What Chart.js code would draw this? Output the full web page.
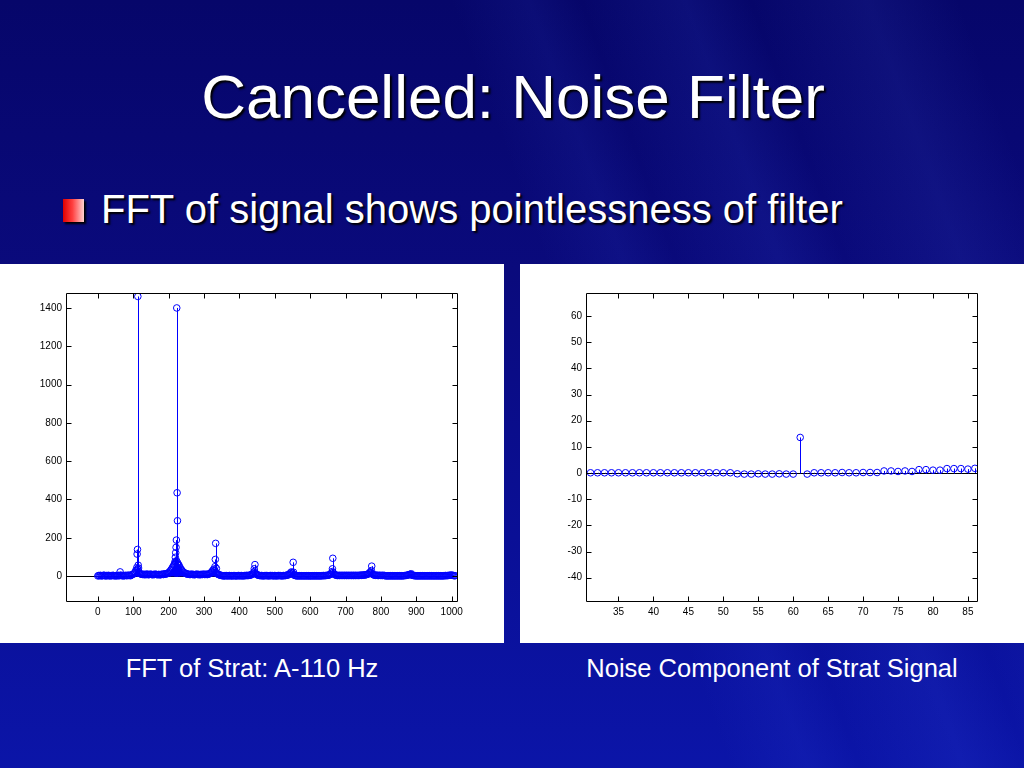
<!DOCTYPE html>
<html>
<head>
<meta charset="utf-8">
<script src="https://cdn.jsdelivr.net/npm/chart.js@4.4.1/dist/chart.umd.min.js"></script>
<style>
  html, body { margin: 0; padding: 0; }
  body {
    width: 1024px; height: 768px; overflow: hidden; position: relative;
    font-family: "Liberation Sans", Arial, sans-serif;
    background:
      linear-gradient(70deg, rgba(0,0,0,0) 56%, rgba(70,100,255,0.08) 62%, rgba(0,0,0,0) 66%,
                      rgba(70,100,255,0.10) 74%, rgba(0,0,0,0) 79%, rgba(90,120,255,0.09) 88%, rgba(0,0,0,0) 95%),
      linear-gradient(180deg, #06066a 0%, #0a0a7c 35%, #0a0f96 70%, #0b15a8 100%);
  }
  .txt { position: absolute; color: #fff; white-space: nowrap; line-height: 1; }
  #title { left: 0; width: 1026px; text-align: center; top: 66px; font-size: 62px; text-shadow: 2px 2px 2px #000; }
  #bullet { left: 101px; top: 189px; font-size: 40px; text-shadow: 2px 2px 2px #000; }
  #square { position: absolute; left: 63px; top: 199px; width: 21px; height: 23px;
            background: linear-gradient(90deg, #e00000 0%, #ff4040 45%, #ffd0d0 100%);
            box-shadow: 2px 2px 2px #000; }
  .panel { position: absolute; top: 264px; width: 504px; height: 379px; background: #fff; }
  #leftPanel { left: 0; }
  #rightPanel { left: 520px; }
  .cap { top: 656px; font-size: 25.5px; text-align: center; }
  #capLeft { left: 2px; width: 500px; }
  #capRight { left: 522px; width: 500px; }
</style>
</head>
<body>
<div id="title" class="txt">Cancelled: Noise Filter</div>
<div id="square"></div>
<div id="bullet" class="txt">FFT of signal shows pointlessness of filter</div>
<div id="leftPanel" class="panel"><canvas id="fftChart" width="504" height="379"></canvas></div>
<div id="rightPanel" class="panel"><canvas id="noiseChart" width="504" height="379"></canvas></div>
<div id="capLeft" class="txt cap">FFT of Strat: A-110 Hz</div>
<div id="capRight" class="txt cap">Noise Component of Strat Signal</div>

<script>
// FFT magnitude floor, one value per 2.5 Hz bin starting at 0 Hz
const fftBinHz = 2.5;
const fftBaseline = [
  1, 3, 2, 4, 1, 2, 3, 5, 2, 1, 3, 2, 4, 2, 1, 3, 2, 4, 3, 1, 2, 3, 1, 4, 2, 3, 5, 2, 3, 1, 2, 4, 3, 2, 5, 3, 4, 2, 6, 8,                 // 0-97.5
  10, 14, 20, 30, 44, 36, 24, 16, 12, 10, 9, 8, 10, 7, 9, 8, 11, 7, 8, 9, 10, 8, 7, 9, 8, 10, 9, 7, 8, 9, 6, 8, 9, 10, 8, 11, 12, 10, 13, 15, // 100-197.5
  18, 22, 28, 34, 42, 50, 58, 66, 72, 80, 70, 62, 54, 44, 36, 30, 24, 20, 17, 14, 12, 11, 10, 9, 8, 9, 10, 8, 9, 7, 8, 9, 10, 8, 9, 7, 8, 9, 8, 10, // 200-297.5
  9, 8, 10, 9, 8, 10, 12, 14, 18, 24, 30, 36, 28, 22, 16, 12, 9, 7, 5, 4, 3, 2, 1, 2, 1, 3, 2, 1, 2, 3, 1, 2, 1, 2, 3, 1, 2, 1, 2, 3,     // 300-397.5
  2, 1, 3, 2, 1, 2, 3, 2, 4, 3, 3, 4, 5, 6, 8, 12, 18, 24, 16, 10, 7, 5, 4, 3, 2, 3, 2, 1, 2, 3, 2, 3, 2, 1, 2, 3, 2, 3, 2, 1,            // 400-497.5
  3, 2, 1, 2, 3, 2, 3, 2, 1, 2, 3, 2, 3, 4, 5, 6, 8, 12, 18, 22, 14, 8, 5, 3, 2, 1, 2, 1, 2, 1, 2, 1, 2, 1, 2, 1, 2, 1, 2, 1,            // 500-597.5
  1, 2, 1, 2, 1, 2, 1, 2, 1, 2, 1, 2, 1, 2, 2, 3, 2, 3, 3, 4, 4, 5, 7, 10, 16, 24, 18, 10, 7, 5, 4, 3, 4, 3, 4, 3, 4, 3, 4, 3,           // 600-697.5
  4, 3, 4, 3, 4, 3, 4, 3, 4, 3, 4, 3, 4, 3, 4, 3, 4, 5, 4, 5, 5, 6, 6, 7, 8, 10, 12, 16, 22, 18, 12, 8, 6, 5, 4, 5, 4, 3, 4, 4,          // 700-797.5
  3, 4, 3, 4, 3, 2, 1, 2, 1, 2, 1, 2, 1, 2, 1, 2, 1, 2, 1, 2, 1, 2, 1, 2, 1, 2, 2, 3, 3, 4, 5, 6, 8, 10, 7, 5, 4, 3, 2, 2,                // 800-897.5
  1, 2, 1, 2, 1, 2, 1, 2, 1, 2, 1, 2, 1, 2, 1, 2, 1, 2, 1, 2, 1, 2, 1, 2, 1, 2, 1, 2, 1, 2, 1, 2, 2, 3, 2, 3, 3, 4, 4, 5,                // 900-997.5
  5, 4, 3, 2, 2                                                                                                                          // 1000-1010
];
// harmonic peaks of the A string (110 Hz and multiples)
const fftPeakHz  = [63, 111, 112, 113, 114, 115, 216, 218, 219, 220, 221, 222, 223, 224, 225, 226, 228,
                    331, 332, 333, 335, 442, 444, 552, 553, 663, 664, 773, 774, 886];
const fftPeakMag = [22, 115, 139, 1460, 57, 42, 57, 75, 98, 122, 150, 188, 1400, 435, 289, 60, 40,
                    49, 87, 171, 40, 38, 60, 72, 20, 38, 93, 29, 52, 12];
const fftXTicks = [0, 100, 200, 300, 400, 500, 600, 700, 800, 900, 1000];
const fftYTicks = [0, 200, 400, 600, 800, 1000, 1200, 1400];

// noise component, zoomed to 31-86 Hz
const noiseHz  = [31, 32, 33, 34, 35, 36, 37, 38, 39, 40, 41, 42, 43, 44, 45, 46, 47, 48, 49, 50,
                  51, 52, 53, 54, 55, 56, 57, 58, 59, 60, 61, 62, 63, 64, 65, 66, 67, 68, 69, 70,
                  71, 72, 73, 74, 75, 76, 77, 78, 79, 80, 81, 82, 83, 84, 85, 86];
const noiseMag = [0.1, 0.1, 0.1, 0.1, 0.1, 0.1, 0.1, 0.1, 0.1, 0.1, 0.1, 0.1, 0.1, 0.1, 0.1, 0.1, 0.1, 0.1, 0.1, 0.1,
                  0.1, -0.3, -0.4, -0.4, -0.3, -0.4, -0.4, -0.3, -0.4, -0.4, 13.6, -0.4, 0.1, 0.1, 0.1, 0.1, 0.2, 0.1, 0.1, 0.2,
                  0.2, 0.2, 0.8, 0.8, 0.6, 0.8, 0.6, 1.3, 1.3, 1.1, 1.1, 1.7, 1.7, 1.7, 1.5, 1.8];
const noiseXTicks = [35, 40, 45, 50, 55, 60, 65, 70, 75, 80, 85];
const noiseYTicks = [-40, -30, -20, -10, 0, 10, 20, 30, 40, 50, 60];

const STEM_BLUE = '#0000ff';

// draws the MATLAB look: zero baseline, stems, boxed axes with inward ticks
const stemPlot = {
  id: 'stemPlot',
  beforeDatasetsDraw(chart) {
    const ctx = chart.ctx, a = chart.chartArea;
    const y0 = Math.round(chart.scales.y.getPixelForValue(0)) + 0.5;
    ctx.save();
    ctx.beginPath();
    ctx.rect(a.left, a.top, a.right - a.left, a.bottom - a.top);
    ctx.clip();
    ctx.lineWidth = 1;
    ctx.strokeStyle = '#000';
    ctx.beginPath();
    ctx.moveTo(a.left, y0);
    ctx.lineTo(a.right, y0);
    ctx.stroke();
    ctx.strokeStyle = STEM_BLUE;
    ctx.beginPath();
    chart.getDatasetMeta(0).data.forEach(function (pt) {
      const px = Math.round(pt.x) + 0.5;
      ctx.moveTo(px, y0);
      ctx.lineTo(px, pt.y);
    });
    ctx.stroke();
    ctx.restore();
  },
  afterDatasetsDraw(chart) {
    const ctx = chart.ctx, a = chart.chartArea;
    const x = chart.scales.x, y = chart.scales.y;
    const len = 5;
    const l = Math.round(a.left) + 0.5, r = Math.round(a.right) + 0.5;
    const t = Math.round(a.top) + 0.5, b = Math.round(a.bottom) + 0.5;
    ctx.save();
    ctx.strokeStyle = '#000';
    ctx.lineWidth = 1;
    ctx.beginPath();
    ctx.rect(l, t, r - l, b - t);
    x.ticks.forEach(function (tk) {
      const px = Math.round(x.getPixelForValue(tk.value)) + 0.5;
      ctx.moveTo(px, b); ctx.lineTo(px, b - len);
      ctx.moveTo(px, t); ctx.lineTo(px, t + len);
    });
    y.ticks.forEach(function (tk) {
      const py = Math.round(y.getPixelForValue(tk.value)) + 0.5;
      ctx.moveTo(l, py); ctx.lineTo(l + len, py);
      ctx.moveTo(r, py); ctx.lineTo(r - len, py);
    });
    ctx.stroke();
    ctx.restore();
  }
};

function axisOpts(min, max, tickList, isX) {
  return {
    type: 'linear',
    min: min,
    max: max,
    grid: { display: false, drawTicks: false },
    border: { display: false },
    afterBuildTicks: function (ax) { ax.ticks = tickList.map(function (v) { return { value: v }; }); },
    afterFit: function (ax) { if (isX) { ax.height = 42; } else { ax.width = 66; } },
    ticks: {
      color: '#000',
      padding: isX ? 5 : 4,
      maxRotation: 0,
      autoSkip: false,
      font: { family: 'Liberation Sans', size: 10 },
      callback: function (v) { return String(v); }
    }
  };
}

function makeStemChart(id, points, xr, yr, xTicks, yTicks) {
  return new Chart(document.getElementById(id), {
    type: 'scatter',
    data: {
      datasets: [{
        data: points,
        showLine: false,
        pointStyle: 'circle',
        pointRadius: 3.3,
        pointBorderWidth: 1,
        pointBorderColor: STEM_BLUE,
        pointBackgroundColor: 'rgba(0,0,0,0)'
      }]
    },
    options: {
      responsive: false,
      animation: false,
      layout: { padding: { left: 0, top: 29, right: 47, bottom: 0 } },
      plugins: { legend: { display: false }, tooltip: { enabled: false } },
      scales: {
        x: axisOpts(xr[0], xr[1], xTicks, true),
        y: axisOpts(yr[0], yr[1], yTicks, false)
      }
    },
    plugins: [stemPlot]
  });
}

const fftPoints = fftBaseline.map(function (m, i) { return { x: i * fftBinHz, y: m }; })
  .concat(fftPeakHz.map(function (f, i) { return { x: f, y: fftPeakMag[i] }; }));
const noisePoints = noiseHz.map(function (f, i) { return { x: f, y: noiseMag[i] }; });

makeStemChart('fftChart', fftPoints, [-90, 1015], [-130, 1478], fftXTicks, fftYTicks);
makeStemChart('noiseChart', noisePoints, [30.35, 86.3], [-48.9, 68.8], noiseXTicks, noiseYTicks);
</script>
</body>
</html>
